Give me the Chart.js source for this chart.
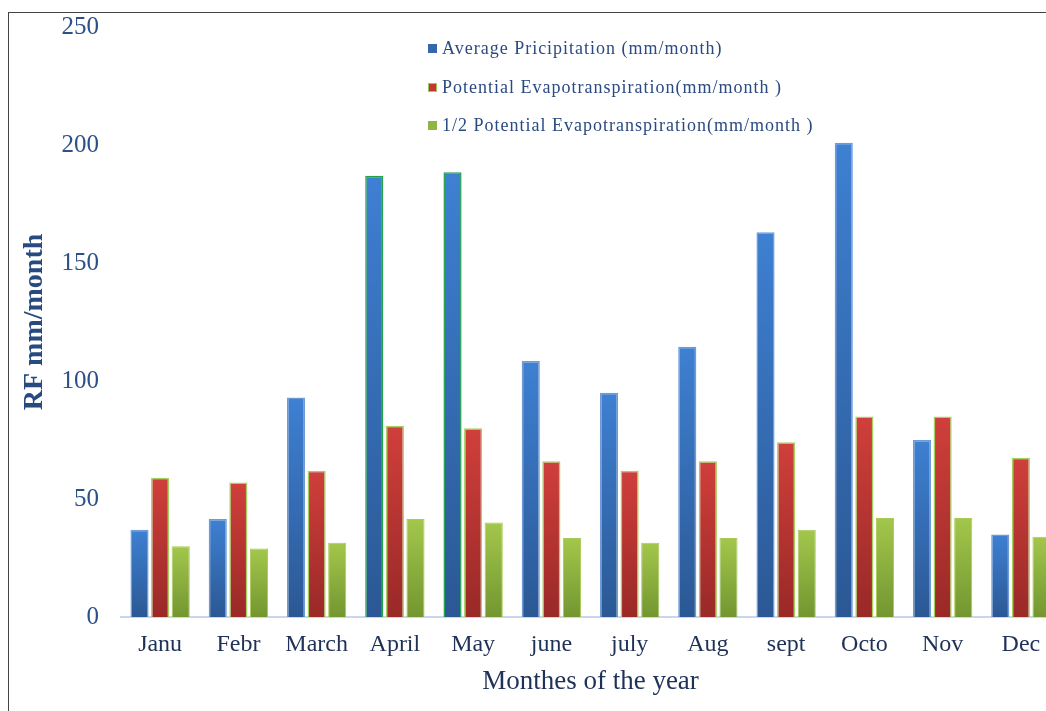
<!DOCTYPE html>
<html>
<head>
<meta charset="utf-8">
<script src="https://cdn.jsdelivr.net/npm/chart.js@4.4.0/dist/chart.umd.min.js"></script>
<style>
  html, body { margin: 0; padding: 0; background: #fff; overflow: hidden; }
  #wrap { position: absolute; left: 0; top: 0; width: 1060px; height: 711px; }
  #frame { position: absolute; left: 8px; top: 12px; width: 1100px; height: 800px;
           border-left: 1px solid #444; border-top: 1px solid #444; pointer-events: none; }
</style>
</head>
<body>
<div id="wrap"><canvas id="rfChart" width="1060" height="711"></canvas></div>
<div id="frame"></div>
<script>
'use strict';

// Datos
const months = ['Janu', 'Febr', 'March', 'April', 'May', 'june', 'july', 'Aug', 'sept', 'Octo', 'Nov', 'Dec'];
const precipitation = [37, 41.5, 93, 187, 188.5, 108.5, 95, 114.5, 163, 201, 75, 35];
const evapotranspiration = [59, 57, 62, 81, 80, 66, 62, 66, 74, 85, 85, 67.5];
const halfEvapotranspiration = [30, 29, 31.5, 41.5, 40, 33.5, 31.5, 33.5, 37, 42, 42, 34];
const yTicks = [0, 50, 100, 150, 200, 250];

const seriesLabels = [
    'Average Pricipitation (mm/month)',
    'Potential Evapotranspiration(mm/month )',
    '1/2 Potential Evapotranspiration(mm/month )'
];

const serif = "'Liberation Serif', 'DejaVu Serif', serif";

// Degradado vertical por barra (claro arriba, oscuro en la base)
function barGradient(top, bottom) {
    return function(context) {
        const chart = context.chart;
        const yScale = chart.scales.y;
        if (!chart.chartArea || !yScale || context.parsed == null) return bottom;
        const yTop = yScale.getPixelForValue(context.parsed.y);
        const yBase = yScale.getPixelForValue(0);
        if (!isFinite(yTop) || !isFinite(yBase) || yTop === yBase) return bottom;
        const g = chart.ctx.createLinearGradient(0, yTop, 0, yBase);
        g.addColorStop(0, top);
        g.addColorStop(1, bottom);
        return g;
    };
}

// Leyenda vertical dentro del área del gráfico
const insideLegend = {
    id: 'insideLegend',
    afterDraw(chart) {
        const ctx = chart.ctx;
        const swatches = [
            { fill: '#3567ad', stroke: '#3567ad' },
            { fill: '#c0392f', stroke: '#9cc45a' },
            { fill: '#8fb543', stroke: '#8fb543' }
        ];
        const x = 428;
        const rows = [48, 87, 125];
        ctx.save();
        ctx.font = '18px ' + serif;
        if ('letterSpacing' in ctx) ctx.letterSpacing = '1px';
        ctx.textBaseline = 'middle';
        chart.data.datasets.forEach((ds, i) => {
            const y = rows[i];
            ctx.fillStyle = swatches[i].fill;
            ctx.fillRect(x, y - 4, 9, 9);
            ctx.strokeStyle = swatches[i].stroke;
            ctx.lineWidth = 1;
            ctx.strokeRect(x + 0.5, y - 3.5, 8, 8);
            ctx.fillStyle = '#2a4a80';
            ctx.fillText(ds.label, x + 14, y + 1);
        });
        ctx.restore();
    }
};

const blueBorders = months.map((m, i) => (i === 3 || i === 4) ? '#1fa548' : '#6f9ad6');

const canvas = document.getElementById('rfChart');
const chart = new Chart(canvas.getContext('2d'), {
    type: 'bar',
    data: {
        labels: months,
        datasets: [{
            label: seriesLabels[0],
            data: precipitation,
            backgroundColor: barGradient('#3e80d2', '#2b5894'),
            borderColor: blueBorders,
            borderWidth: 1.5,
            borderSkipped: 'bottom'
        }, {
            label: seriesLabels[1],
            data: evapotranspiration,
            backgroundColor: barGradient('#d03f3b', '#992927'),
            borderColor: '#a6cf62',
            borderWidth: 1.5,
            borderSkipped: 'bottom'
        }, {
            label: seriesLabels[2],
            data: halfEvapotranspiration,
            backgroundColor: barGradient('#a3c74b', '#739631'),
            borderColor: '#a9cc58',
            borderWidth: 1,
            borderSkipped: 'bottom'
        }]
    },
    options: {
        responsive: false,
        animation: false,
        devicePixelRatio: 1,
        layout: { padding: { top: 27, right: 0, left: 0, bottom: 0 } },
        datasets: {
            bar: { categoryPercentage: 0.79, barPercentage: 0.88 }
        },
        plugins: {
            legend: { display: false },
            tooltip: { enabled: false }
        },
        scales: {
            x: {
                grid: { display: false, drawTicks: false },
                border: { display: true, color: '#c8d7ec', width: 2 },
                ticks: {
                    color: '#1f3157',
                    font: { family: serif, size: 24 },
                    padding: 13,
                    maxRotation: 0,
                    autoSkip: false
                },
                title: {
                    display: true,
                    text: 'Monthes of the year',
                    color: '#1f3157',
                    font: { family: serif, size: 27 },
                    padding: { top: 0, bottom: 13 }
                },
                afterFit(scale) { scale.height = 94; }
            },
            y: {
                min: 0,
                max: 250,
                afterBuildTicks(scale) { scale.ticks = yTicks.map(v => ({ value: v })); },
                grid: { display: false, drawTicks: false },
                border: { display: false },
                ticks: {
                    color: '#2c5088',
                    font: { family: serif, size: 25 },
                    padding: 22
                },
                title: {
                    display: true,
                    text: 'RF mm/month',
                    color: '#274b80',
                    font: { family: serif, size: 28, weight: 'bold' },
                    padding: { top: 18, bottom: 0 }
                },
                afterFit(scale) {
                    scale.width = 121;
                    scale.paddingTop = 0;
                    scale.paddingBottom = 0;
                }
            }
        }
    },
    plugins: [insideLegend]
});
</script>
</body>
</html>
